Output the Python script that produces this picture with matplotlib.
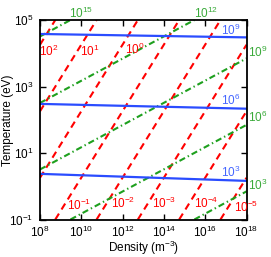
import matplotlib
matplotlib.use('Agg')
import matplotlib.pyplot as plt

plt.rcParams['font.family'] = ['Liberation Sans', 'DejaVu Sans']
plt.rcParams['mathtext.fontset'] = 'custom'
plt.rcParams['mathtext.rm'] = 'Liberation Sans'
plt.rcParams['mathtext.it'] = 'Liberation Sans:italic'
plt.rcParams['mathtext.default'] = 'regular'
plt.rcParams['lines.scale_dashes'] = False

# Debye length lines (red dashed): endpoints
red_labels = ['2', '1', '0', '-1', '-2', '-3', '-4', '-5']
red_n = [[1e8, 5.5e8], [1e8, 5.5e10], [1e8, 5.5e12], [5.5e8, 5.5e14],
         [5.5e10, 5.5e16], [5.5e12, 1e18], [5.5e14, 1e18], [5.5e16, 1e18]]
red_T = [[1.8e4, 1e5], [180, 1e5], [1.8, 1e5], [0.1, 1e5],
         [0.1, 1e5], [0.1, 1.8e4], [0.1, 180], [0.1, 1.8]]

# particles in Debye sphere (green dash-dot)
green_labels = ['15', '12', '9', '6', '3']
green_n = [[1e8, 3e9], [1e8, 3e15], [1e8, 1e18], [3e9, 1e18], [3e15, 1e18]]
green_T = [[3.2e4, 1e5], [320, 1e5], [3.2, 7e3], [0.1, 70], [0.1, 0.7]]

# blue solid lines
blue_labels = ['9', '6', '3']
blue_n = [[1e8, 1e18], [1e8, 1e18], [1e8, 1e18]]
blue_T = [[3.8e4, 3.0e4], [300, 215], [2.36, 1.45]]

fig = plt.figure(figsize=(2.71, 2.57), dpi=100)
ax = fig.add_axes([40 / 271, 1 - 219.5 / 257, 206.5 / 271, 199.5 / 257])

for n, T in zip(red_n, red_T):
    ax.plot(n, T, color='#ff0000', lw=1.5, dashes=(5, 3.5))
for n, T in zip(green_n, green_T):
    ax.plot(n, T, color='#1ea01e', lw=1.5, dashes=(4.5, 2.2, 1, 2.2))
for n, T in zip(blue_n, blue_T):
    ax.plot(n, T, color='#2a4cff', lw=1.6)

ax.set_xscale('log')
ax.set_yscale('log')
ax.set_xlim(1e8, 1e18)
ax.set_ylim(1e-1, 1e5)
ax.set_xticks([1e8, 1e10, 1e12, 1e14, 1e16, 1e18])
ax.set_yticks([1e-1, 1e1, 1e3, 1e5])
ax.minorticks_off()
ax.tick_params(direction='in', top=True, right=True, length=4, width=1, labelsize=8.5, pad=5)
ax.tick_params(axis='x', pad=4)
for s in ax.spines.values():
    s.set_linewidth(1.3)

ax.set_xlabel('Density (m$^{-3}$)', fontsize=8.5)
ax.set_ylabel('Temperature (eV)', fontsize=8.5)
ax.xaxis.set_label_coords(0.5, -0.098)
ax.yaxis.set_label_coords(-0.128, 0.5)

# label positions in pixels
red_pos = [(49, 51), (90, 51), (135, 49), (79, 205), (123, 203), (164, 203), (206, 203), (246, 207)]
green_pos = [(81, 13), (206, 13), (258, 52), (258, 117), (258, 185)]
blue_pos = [(231, 30), (231, 100), (231, 172)]

for lab, (x, y) in zip(red_labels, red_pos):
    fig.text(x / 271, 1 - y / 257, '$10^{%s}$' % lab, color='#ff0000', fontsize=8.5, ha='center', va='center')
for lab, (x, y) in zip(green_labels, green_pos):
    fig.text(x / 271, 1 - y / 257, '$10^{%s}$' % lab, color='#3aaa3a', fontsize=8.5, ha='center', va='center')
for lab, (x, y) in zip(blue_labels, blue_pos):
    fig.text(x / 271, 1 - y / 257, '$10^{%s}$' % lab, color='#4466ff', fontsize=8.5, ha='center', va='center')

fig.savefig('out.png', dpi=100)
